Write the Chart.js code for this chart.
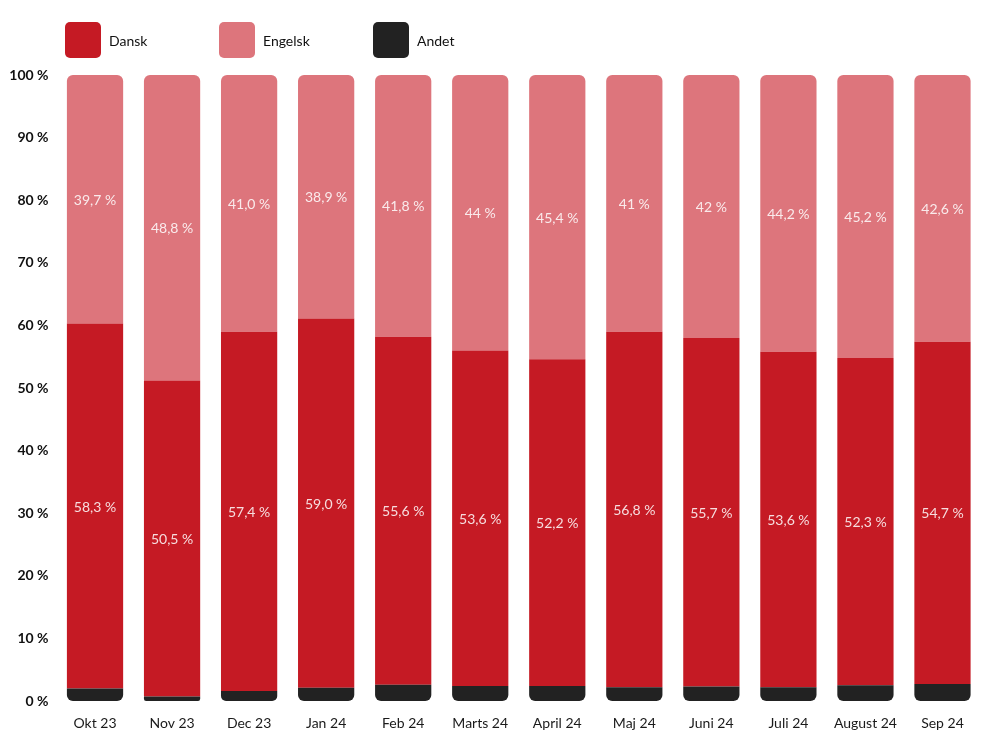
<!DOCTYPE html>
<html lang="da">
<head>
  <meta charset="UTF-8">
  <script src="https://cdn.jsdelivr.net/npm/chart.js"></script>
  <title>Sprog</title>
  <style>
    body { margin: 0; background: #fff; font-family: Lato, sans-serif; }
    .wrap { position: relative; width: 1000px; height: 736px; }
    #legende { position: absolute; left: 65px; top: 22px; display: flex; }
    .item { display: flex; align-items: center; width: 154px; font-size: 14px; color: #111; }
    .box { width: 36px; height: 36px; border-radius: 5px; margin-right: 8px; }
  </style>
</head>
<body>
<div class="wrap">
  <div id="legende"></div>
  <canvas id="myChart" width="1000" height="736"></canvas>
</div>
<script>
  var maaneder = ['Okt 23', 'Nov 23', 'Dec 23', 'Jan 24', 'Feb 24', 'Marts 24', 'April 24', 'Maj 24', 'Juni 24', 'Juli 24', 'August 24', 'Sep 24']
  // strenge saa "41,0" og "41" vises som i originalen
  var dansk = ['58.3', '50.5', '57.4', '59.0', '55.6', '53.6', '52.2', '56.8', '55.7', '53.6', '52.3', '54.7']
  var engelsk = ['39.7', '48.8', '41.0', '38.9', '41.8', '44', '45.4', '41', '42', '44.2', '45.2', '42.6']
  var andet = [2.0, 0.7, 1.6, 2.1, 2.6, 2.4, 2.4, 2.2, 2.3, 2.2, 2.5, 2.7]
  var yTicks = [0, 10, 20, 30, 40, 50, 60, 70, 80, 90, 100]

  const etiketter = {
    id: 'etiketter',
    afterDatasetsDraw(chart) {
      const ctx = chart.ctx
      ctx.save()
      ctx.font = '14px Lato'
      ctx.fillStyle = 'rgba(255,255,255,0.85)'
      ctx.textAlign = 'center'
      ctx.textBaseline = 'middle'
      chart.data.datasets.forEach((ds, i) => {
        if (!ds.visTal) return
        chart.getDatasetMeta(i).data.forEach((bar, j) => {
          const p = bar.getProps(['x', 'y', 'base'], true)
          ctx.fillText(String(ds.data[j]).replace('.', ',') + ' %', p.x, (p.y + p.base) / 2 + 1)
        })
      })
      ctx.restore()
    }
  }

  const ctx = document.getElementById('myChart')
  const myChart = new Chart(ctx, {
    type: 'bar',
    data: {
      labels: maaneder,
      datasets: [{
        label: 'Andet',
        data: andet,
        backgroundColor: '#222222',
        borderSkipped: false,
        borderRadius: { topLeft: 0, topRight: 0, bottomLeft: 6, bottomRight: 6 },
        visTal: false,
        legendeOrden: 3
      }, {
        label: 'Dansk',
        data: dansk,
        backgroundColor: '#C51A24',
        borderRadius: 0,
        visTal: true,
        legendeOrden: 1
      }, {
        label: 'Engelsk',
        data: engelsk,
        backgroundColor: '#DD757C',
        borderSkipped: false,
        borderRadius: { topLeft: 6, topRight: 6, bottomLeft: 0, bottomRight: 0 },
        visTal: true,
        legendeOrden: 2
      }]
    },
    options: {
      responsive: false,
      animation: false,
      barPercentage: 0.73,
      categoryPercentage: 1,
      layout: { padding: { top: 75, right: 19, bottom: 0, left: 0 } },
      plugins: { legend: { display: false }, tooltip: { enabled: false } },
      scales: {
        x: {
          stacked: true,
          grid: { display: false },
          border: { display: false },
          ticks: { color: '#1a1a1a', font: { family: 'Lato', size: 14 }, padding: 6, maxRotation: 0 },
          afterFit: (s) => { s.height = 35 }
        },
        y: {
          stacked: true,
          min: 0,
          max: 100,
          grid: { display: false, drawTicks: false },
          border: { display: false },
          afterBuildTicks: (s) => { s.ticks = yTicks.map(v => ({ value: v })) },
          afterFit: (s) => { s.width = 56.5 },
          ticks: {
            color: '#111',
            font: { family: 'Lato', size: 14, weight: 'bold' },
            padding: 8,
            callback: (v) => v + ' %'
          }
        }
      }
    },
    plugins: [etiketter]
  })

  // legende i samme raekkefolge som originalen
  var legende = document.getElementById('legende')
  myChart.data.datasets.slice().sort((a, b) => a.legendeOrden - b.legendeOrden).forEach((ds) => {
    legende.innerHTML += '<div class="item"><div class="box" style="background:' + ds.backgroundColor + '"></div>' + ds.label + '</div>'
  })
</script>
</body>
</html>
